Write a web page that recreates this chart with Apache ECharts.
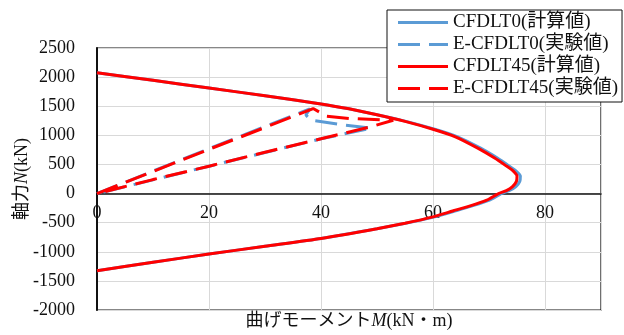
<!DOCTYPE html>
<html>
<head>
<meta charset="utf-8">
<script src="https://cdn.jsdelivr.net/npm/echarts@6/dist/echarts.min.js"></script>
<style>html,body{margin:0;padding:0;background:#fff;}#c{width:624px;height:335px;}</style>
</head>
<body>
<div id="c"></div>
<script>
// Calculated interaction curve CFDLT45 (M in kN·m, N in kN)
var calc45M = [0, 10, 20, 30, 40, 45, 50, 55, 60, 64, 68, 71, 73, 74.3, 75, 74.9, 74.2, 73.1, 71.7, 69.6, 66.5, 63.5, 60, 55, 50, 40, 30, 20, 10, 0];
var calc45N = [2075, 1945, 1812, 1680, 1540, 1455, 1355, 1240, 1105, 975, 780, 610, 480, 390, 300, 210, 120, 50, 0, -113, -215, -300, -400, -510, -605, -772, -905, -1039, -1180, -1325];
// Calculated interaction curve CFDLT0
var calc0M = [0, 10, 20, 30, 40, 45, 50, 55.2, 60.3, 64.4, 68.5, 71.5, 73.5, 74.8, 75.6, 75.5, 74.8, 73.6, 72.2, 70.1, 66.9, 63.9, 60.3, 55.1, 50, 40, 30, 20, 10, 0];
var calc0N = [2075, 1945, 1812, 1680, 1540, 1455, 1355, 1240, 1105, 975, 780, 610, 480, 390, 300, 210, 120, 50, 0, -113, -215, -300, -400, -510, -605, -772, -905, -1039, -1180, -1325];
// Experimental loop E-CFDLT0
var exp0M = [0, 10, 20, 30, 38, 37.3, 38.2, 44, 49, 40, 30, 20, 10, 0];
var exp0N = [0, 385, 770, 1150, 1455, 1350, 1260, 1180, 1125, 940, 705, 470, 235, 0];
// Experimental loop E-CFDLT45
var exp45M = [0, 10, 20, 30, 38.6, 41, 45, 52.9, 49, 40, 30, 20, 10, 0];
var exp45N = [0, 380, 760, 1135, 1460, 1330, 1290, 1258, 1150, 940, 710, 470, 240, 0];

var seriesNames = ['CFDLT0(計算値)', 'E-CFDLT0(実験値)', 'CFDLT45(計算値)', 'E-CFDLT45(実験値)'];
var xTicks = { min: 0, max: 90, interval: 20 };
var yTicks = { min: -2000, max: 2500, interval: 500 };

function pairs(ms, ns) { return ms.map(function (m, i) { return [m, ns[i]]; }); }
function plain(v) { return String(v); }

var FONT = "'Liberation Serif', 'Noto Sans CJK JP', serif";
var BLUE = '#5B9BD5', RED = '#FF0000';
var DASH = [22, 9];
var SOLID_ICON = 'path://M0,0h50v3h-50z';
var DASH_ICON = 'path://M0,0h22v3h-22z M31,0h19v3h-19z';

var GRID_TOP = 48, GRID_BOTTOM = 25, H = 335;
var plotH = H - GRID_TOP - GRID_BOTTOM;
var zeroFromBottom = plotH * (0 - yTicks.min) / (yTicks.max - yTicks.min);

var chart = echarts.init(document.getElementById('c'));
chart.setOption({
  animation: false,
  backgroundColor: '#fff',
  textStyle: { fontFamily: FONT },
  grid: { left: 97, right: 23, top: GRID_TOP, bottom: GRID_BOTTOM, show: true, borderColor: '#111', borderWidth: 1.2, containLabel: false, outerBoundsMode: 'none' },
  legend: {
    orient: 'vertical', left: 387, top: 10,
    backgroundColor: '#fff', borderColor: '#111', borderWidth: 1,
    padding: [3, 4, 4, 11], itemGap: 3, itemWidth: 50, itemHeight: 3,
    textStyle: { fontFamily: FONT, fontSize: 19, color: '#111', lineHeight: 19 },
    data: [
      { name: seriesNames[0], icon: SOLID_ICON },
      { name: seriesNames[1], icon: DASH_ICON },
      { name: seriesNames[2], icon: SOLID_ICON },
      { name: seriesNames[3], icon: DASH_ICON }
    ]
  },
  xAxis: {
    type: 'value', min: xTicks.min, max: xTicks.max, interval: xTicks.interval,
    offset: -zeroFromBottom,
    axisLine: { show: true, onZero: false, lineStyle: { color: '#111', width: 1.5 } },
    axisTick: { show: false },
    axisLabel: { fontFamily: FONT, fontSize: 18, color: '#111', margin: 11, showMaxLabel: false, formatter: plain },
    splitLine: { show: true, lineStyle: { color: '#d9d9d9', width: 1 } },
    name: '曲げモーメント{i|M}(kN・m)', nameLocation: 'middle', nameGap: 119, nameMoveOverlap: false,
    nameTextStyle: { fontFamily: FONT, fontSize: 18, color: '#111', rich: { i: { fontFamily: FONT, fontSize: 18, fontStyle: 'italic', color: '#111' } } }
  },
  yAxis: {
    type: 'value', min: yTicks.min, max: yTicks.max, interval: yTicks.interval,
    axisLine: { show: true, onZero: false, lineStyle: { color: '#111', width: 2 } },
    axisTick: { show: false },
    axisLabel: { fontFamily: FONT, fontSize: 18, color: '#111', margin: 22, formatter: plain },
    splitLine: { show: true, lineStyle: { color: '#d9d9d9', width: 1 } },
    name: '軸力{i|N}(kN)', nameLocation: 'middle', nameGap: 66, nameMoveOverlap: false,
    nameTextStyle: { fontFamily: FONT, fontSize: 18, color: '#111', rich: { i: { fontFamily: FONT, fontSize: 18, fontStyle: 'italic', color: '#111' } } }
  },
  series: [
    { name: seriesNames[0], type: 'line', data: pairs(calc0M, calc0N), symbol: 'none', smooth: 0.2, color: BLUE, lineStyle: { color: BLUE, width: 3 } },
    { name: seriesNames[1], type: 'line', data: pairs(exp0M, exp0N), symbol: 'none', color: BLUE, lineStyle: { color: BLUE, width: 3, type: DASH } },
    { name: seriesNames[2], type: 'line', data: pairs(calc45M, calc45N), symbol: 'none', smooth: 0.2, color: RED, lineStyle: { color: RED, width: 3 } },
    { name: seriesNames[3], type: 'line', data: pairs(exp45M, exp45N), symbol: 'none', color: RED, lineStyle: { color: RED, width: 3, type: DASH } }
  ]
});
</script>
</body>
</html>
